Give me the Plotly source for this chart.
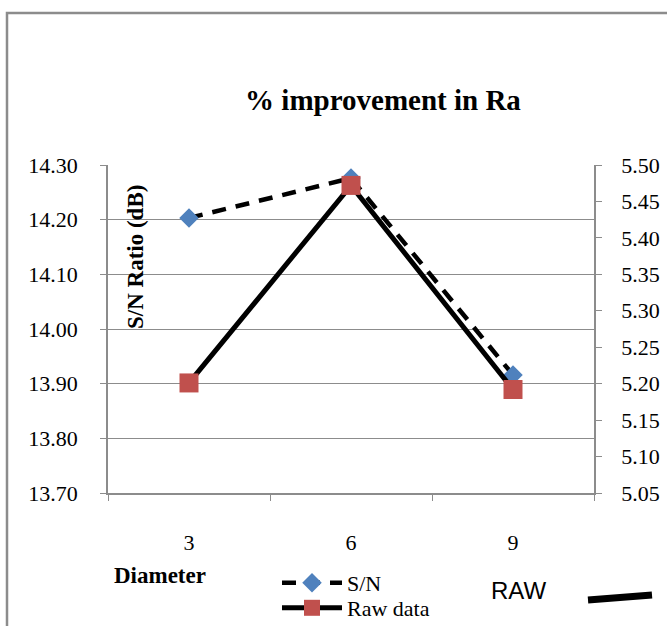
import plotly.graph_objects as go

diameters = ["3", "6", "9"]
sn_ratio = [14.203, 14.276, 13.916]
raw_data = [5.201, 5.472, 5.192]

left_ticks = [13.70, 13.80, 13.90, 14.00, 14.10, 14.20, 14.30]
right_ticks = [5.05, 5.10, 5.15, 5.20, 5.25, 5.30, 5.35, 5.40, 5.45, 5.50]

W, H = 667, 626
L, R, T, B = 108, 594, 165, 493

def px(x):
    return (x - L) / (R - L)

def py(y):
    return (B - y) / (B - T)

serif = "Liberation Serif"

fig = go.Figure()
fig.add_trace(go.Scatter(
    x=diameters, y=sn_ratio, name="S/N", mode="lines+markers",
    line=dict(color="black", width=4.5, dash="14px,10px"),
    marker=dict(symbol="diamond", size=15, color="#4F81BD"),
    yaxis="y", cliponaxis=False, legend="legend",
))
fig.add_trace(go.Scatter(
    x=diameters, y=raw_data, name="Raw data", mode="lines+markers",
    line=dict(color="black", width=5),
    marker=dict(symbol="square", size=19, color="#C0504D"),
    yaxis="y2", cliponaxis=False, legend="legend2",
))

legend_common = dict(xanchor="left", yanchor="top", bgcolor="rgba(0,0,0,0)",
                     itemwidth=60, font=dict(family=serif, size=22))

fig.update_layout(
    width=W, height=H,
    margin=dict(l=L, r=W - R, t=T, b=H - B, pad=0, autoexpand=False),
    paper_bgcolor="white", plot_bgcolor="white",
    font=dict(family=serif, size=22, color="black"),
    title=dict(text="<b>% improvement in Ra</b>", x=383 / W, xanchor="center",
               y=1 - 100 / H, yanchor="middle",
               font=dict(family=serif, size=29, color="black")),
    xaxis=dict(type="category", tickson="boundaries", ticks="outside", ticklen=6,
               tickcolor="#8c8c8c", showline=True, linecolor="#8c8c8c", linewidth=1.5,
               showgrid=False, ticklabelstandoff=29, range=[-0.5, 2.5],
               tickfont=dict(family=serif, size=22)),
    yaxis=dict(range=[13.70, 14.30], tickvals=left_ticks, tickformat=".2f",
               ticks="outside", ticklen=6, tickcolor="#8c8c8c",
               showline=True, linecolor="#8c8c8c", linewidth=1.5,
               showgrid=True, gridcolor="#8c8c8c", gridwidth=1.2,
               zeroline=False, ticklabelstandoff=18,
               tickfont=dict(family=serif, size=22)),
    yaxis2=dict(range=[5.05, 5.50], tickvals=right_ticks, tickformat=".2f",
                overlaying="y", side="right",
                ticks="outside", ticklen=6, tickcolor="#8c8c8c",
                showline=True, linecolor="#8c8c8c", linewidth=1.5,
                showgrid=False, zeroline=False, ticklabelstandoff=15,
                tickfont=dict(family=serif, size=22)),
    showlegend=True,
    legend=dict(x=px(277), y=py(562), **legend_common),
    legend2=dict(x=px(277), y=py(587), **legend_common),
)

# outer frame
fig.add_shape(type="rect", xref="paper", yref="paper",
              x0=px(7), y0=py(700), x1=px(720), y1=py(13),
              line=dict(color="#8c8c8c", width=2.5), layer="below")

# rotated y-axis title inside plot
fig.add_annotation(text="<b>S/N Ratio (dB)</b>", xref="paper", yref="paper",
                   x=px(135), y=py(257), xanchor="center", yanchor="middle",
                   textangle=-90, showarrow=False,
                   font=dict(family=serif, size=23, color="black"))
# x-axis title
fig.add_annotation(text="<b>Diameter</b>", xref="paper", yref="paper",
                   x=px(160), y=py(575), xanchor="center", yanchor="middle",
                   showarrow=False,
                   font=dict(family=serif, size=23, color="black"))
# RAW label
fig.add_annotation(text="RAW", xref="paper", yref="paper",
                   x=px(518), y=py(590), xanchor="center", yanchor="middle",
                   showarrow=False,
                   font=dict(family="Liberation Sans", size=24, color="black"))
# black stroke
fig.add_shape(type="line", xref="paper", yref="paper",
              x0=px(588), y0=py(600), x1=px(652), y1=py(595),
              line=dict(color="black", width=7))

fig.write_html("out.html")
